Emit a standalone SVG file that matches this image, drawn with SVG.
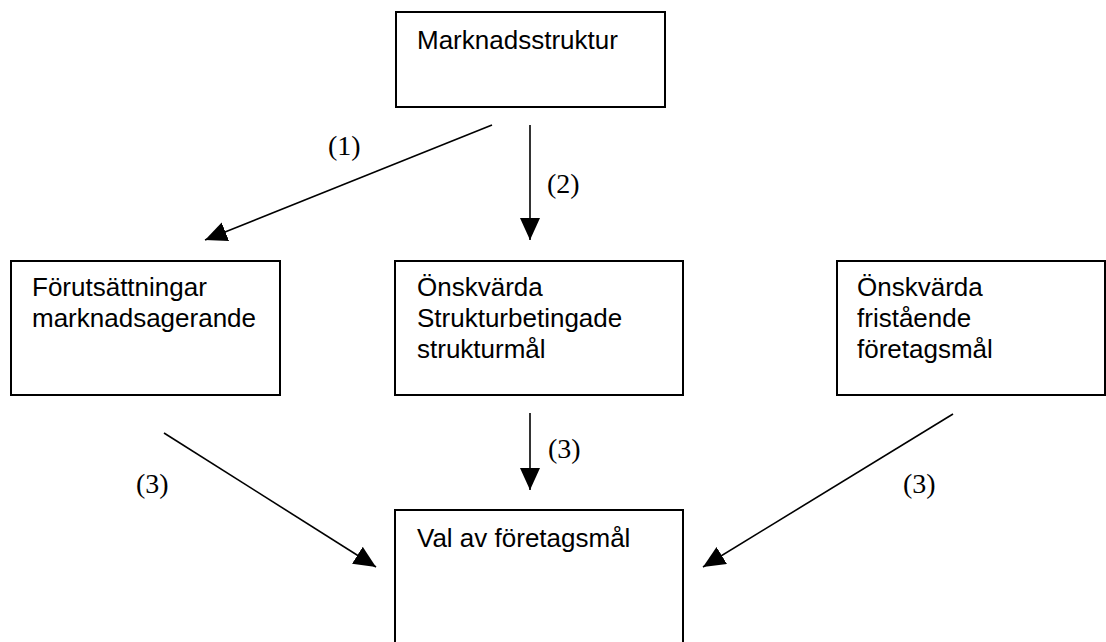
<svg xmlns="http://www.w3.org/2000/svg" width="1106" height="642" viewBox="0 0 1106 642">
  <style>
    .box { fill: #ffffff; stroke: #000000; stroke-width: 2; }
    .txt { font-family: "Liberation Sans", Arial, sans-serif; font-size: 26px; fill: #000000; }
    .lbl { font-family: "Liberation Serif", "Times New Roman", serif; font-size: 28px; fill: #000000; }
    .conn { stroke: #000000; stroke-width: 1.6; fill: none; marker-end: url(#arrow); }
  </style>
  <defs>
    <marker id="arrow" markerUnits="userSpaceOnUse" markerWidth="24" markerHeight="22" refX="22" refY="10" orient="auto">
      <path d="M0,0 L22,10 L0,20 Z" fill="#000000"/>
    </marker>
  </defs>
  <rect width="1106" height="642" fill="#ffffff"/>

  <g id="marknadsstruktur">
    <rect class="box" x="396" y="12" width="269" height="95"/>
    <text class="txt" x="417" y="49">Marknadsstruktur</text>
  </g>

  <g id="forutsattningar">
    <rect class="box" x="11" y="261" width="269" height="134"/>
    <text class="txt" x="32" y="296">Förutsättningar</text>
    <text class="txt" x="32" y="327">marknadsagerande</text>
  </g>

  <g id="strukturmal">
    <rect class="box" x="395" y="261" width="288" height="134"/>
    <text class="txt" x="417" y="296">Önskvärda</text>
    <text class="txt" x="417" y="327">Strukturbetingade</text>
    <text class="txt" x="417" y="358">strukturmål</text>
  </g>

  <g id="foretagsmal">
    <rect class="box" x="837" y="261" width="268" height="134"/>
    <text class="txt" x="857" y="296">Önskvärda</text>
    <text class="txt" x="857" y="327">fristående</text>
    <text class="txt" x="857" y="358">företagsmål</text>
  </g>

  <g id="val">
    <rect class="box" x="395" y="510" width="288" height="140"/>
    <text class="txt" x="417" y="547">Val av företagsmål</text>
  </g>

  <g id="connectors">
    <line class="conn" x1="492" y1="125" x2="205" y2="240"/>
    <line class="conn" x1="530" y1="125" x2="530" y2="240"/>
    <line class="conn" x1="530" y1="413" x2="530" y2="490"/>
    <line class="conn" x1="164" y1="433" x2="376" y2="567"/>
    <line class="conn" x1="953" y1="414" x2="703" y2="567"/>
    <text class="lbl" x="328" y="155">(1)</text>
    <text class="lbl" x="547" y="193">(2)</text>
    <text class="lbl" x="548" y="458">(3)</text>
    <text class="lbl" x="136" y="493">(3)</text>
    <text class="lbl" x="903" y="493">(3)</text>
  </g>
</svg>
